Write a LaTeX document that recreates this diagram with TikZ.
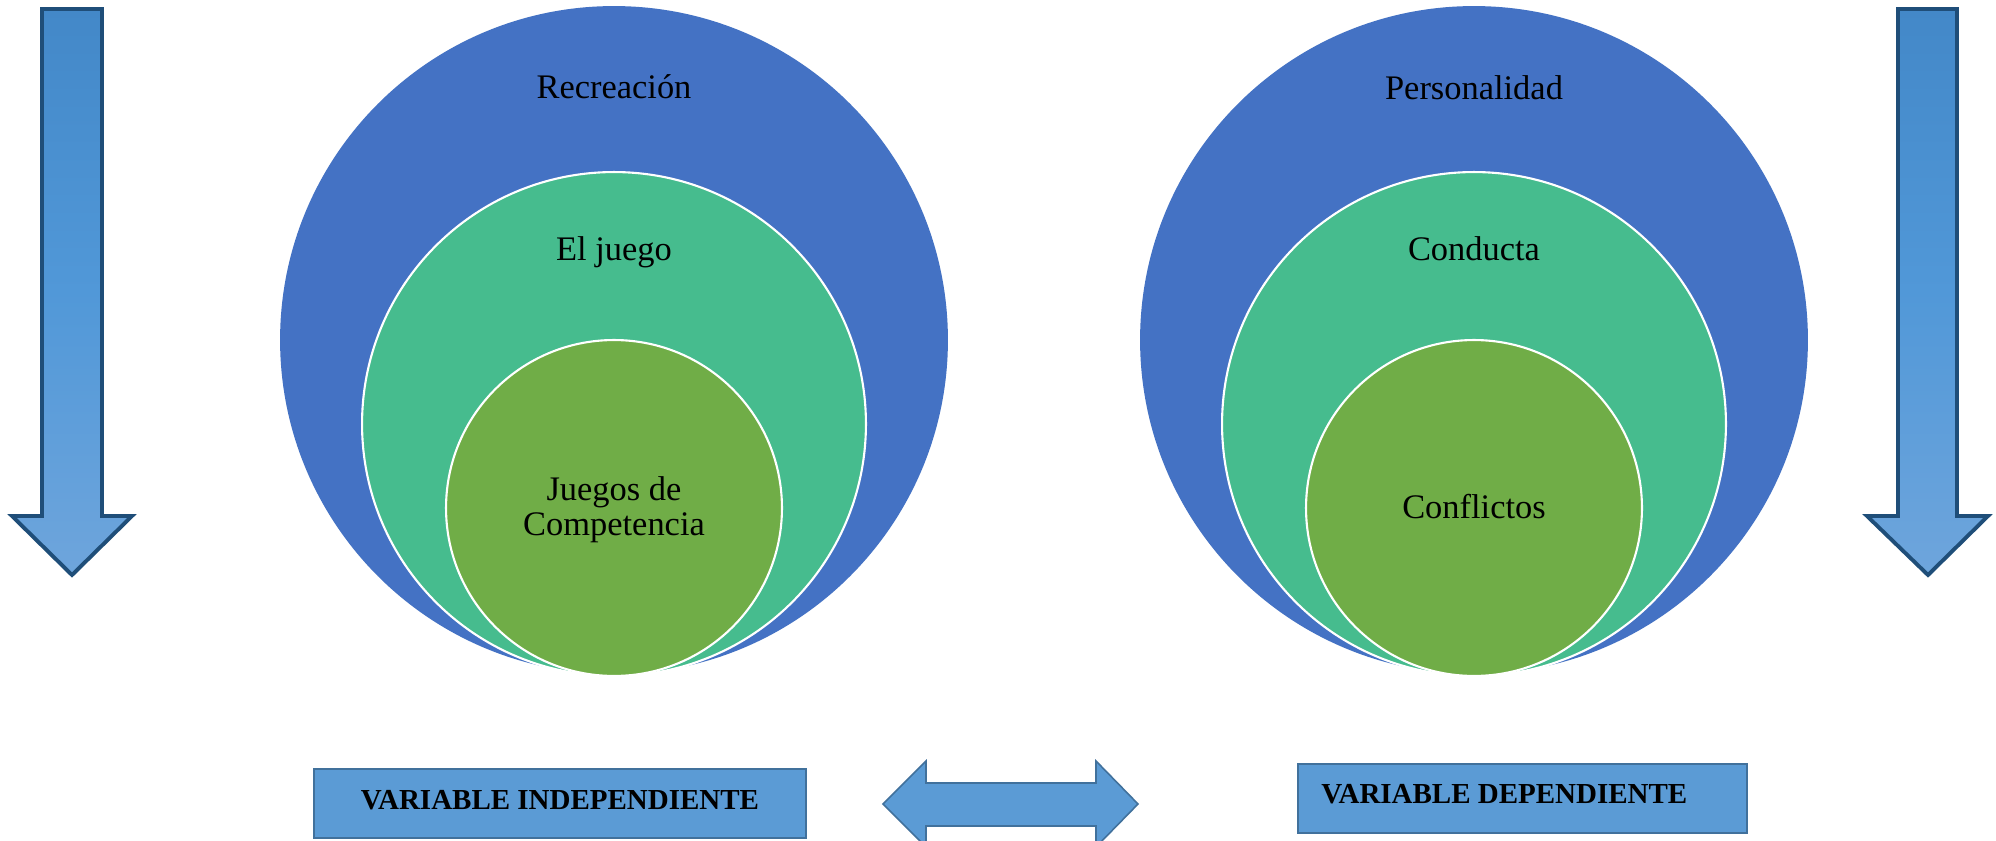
\documentclass[tikz,border=0pt]{standalone}
\usepackage{fontspec}
\setmainfont{Liberation Serif}
\definecolor{bigblue}{HTML}{4472C4}
\definecolor{midteal}{HTML}{46BC8E}
\definecolor{ingreen}{HTML}{70AD47}
\definecolor{arrowdark}{HTML}{1F4E79}
\definecolor{shtop}{HTML}{4388C8}
\definecolor{shmid}{HTML}{5198D8}
\definecolor{shbot}{HTML}{6EA5DC}
\definecolor{boxfill}{HTML}{5B9BD5}
\definecolor{boxline}{HTML}{41719C}
\tikzset{
  bigc/.style={circle, inner sep=0pt, fill=bigblue, minimum size=13.36cm},
  midc/.style={circle, inner sep=0pt, fill=midteal, draw=white, line width=1.2pt, minimum size=10.08cm},
  inc/.style={circle, inner sep=0pt, fill=ingreen, draw=white, line width=1.2pt, minimum size=6.72cm},
  ctext/.style={font=\fontsize{19.6pt}{20pt}\selectfont, text=black, inner sep=0pt},
  varbox/.style={draw=boxline, fill=boxfill, line width=1.1pt, minimum width=#1, minimum height=1.38cm, inner sep=0pt},
  vtext/.style={font=\bfseries\fontsize{16.5pt}{18pt}\selectfont, text=black, inner sep=0pt},
  downarrow/.style={draw=arrowdark, line width=2.2pt, line join=miter, top color=shtop, bottom color=shbot, middle color=shmid},
  dblarrow/.style={draw=boxline, fill=boxfill, line width=0.9pt, line join=miter}
}
\begin{document}
\begin{tikzpicture}[x=0.02cm, y=-0.02cm]
\useasboundingbox (0,0) rectangle (1996,841);
\fill[white] (0,0) rectangle (1996,841);

% left nested circles
\node[bigc] (rec) at (614,340) {};
\node[midc] (jue) at (614,424) {};
\node[inc] (comp) at (614,508) {};
\node[ctext, anchor=base] (trec) at (614,99) {Recreación};
\node[ctext, anchor=base] (tjue) at (614,261) {El juego};
\node[ctext, align=center] (tcomp) at (614,510) {Juegos de\\Competencia};

% right nested circles
\node[bigc] (per) at (1474,340) {};
\node[midc] (con) at (1474,424) {};
\node[inc] (conf) at (1474,508) {};
\node[ctext, anchor=base] (tper) at (1474,100) {Personalidad};
\node[ctext, anchor=base] (tcon) at (1474,261) {Conducta};
\node[ctext, anchor=base] (tconf) at (1474,518) {Conflictos};

% down arrows
\draw[downarrow] (42,9) -- (102,9) -- (102,516) -- (132,516) -- (72,575) -- (12,516) -- (42,516) -- cycle;
\draw[downarrow] (1898,9) -- (1957,9) -- (1957,516) -- (1988,516) -- (1928,575) -- (1867,516) -- (1898,516) -- cycle;

% variable boxes
\node[varbox=9.84cm] (vi) at (560,803.5) {};
\node[vtext, anchor=base] (tvi) at (560,809) {VARIABLE INDEPENDIENTE};
\node[varbox=8.98cm] (vd) at (1522.5,798.5) {};
\node[vtext, anchor=base west] (tvd) at (1321,803) {VARIABLE DEPENDIENTE};

% double arrow
\draw[dblarrow] (883,804) -- (926,761) -- (926,783) -- (1096,783) -- (1096,761) -- (1138,804)
  -- (1096,847) -- (1096,826) -- (926,826) -- (926,847) -- cycle;
\end{tikzpicture}
\end{document}
